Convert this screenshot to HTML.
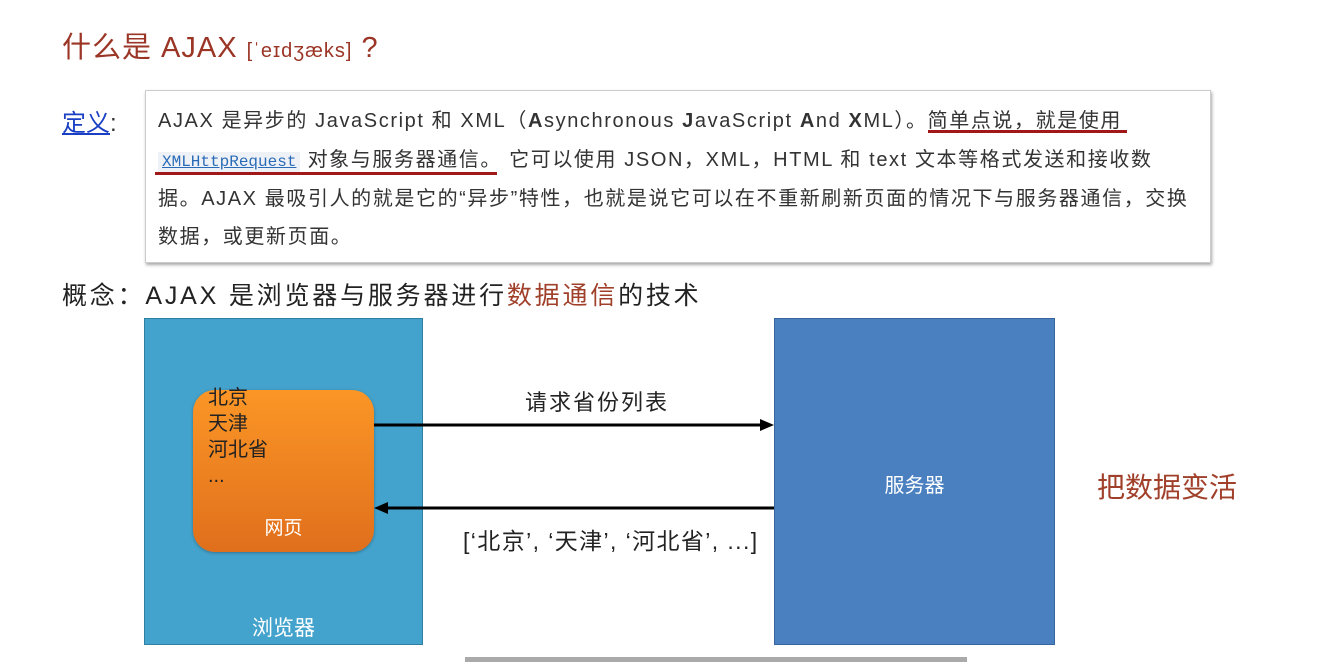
<!DOCTYPE html>
<html><head><meta charset="utf-8">
<style>
body{margin:0;width:1327px;height:662px;background:#fff;position:relative;overflow:hidden;font-family:"Liberation Sans","Noto Sans CJK SC",sans-serif;}
.a{position:absolute;white-space:nowrap;}
.box{position:absolute;left:145px;top:90px;width:1064px;height:171px;border:1px solid #ccc;box-shadow:1px 2px 3px rgba(0,0,0,.35);background:#fff;}
.ln{position:absolute;left:12px;font-size:20px;letter-spacing:1.6px;color:#333;white-space:nowrap;}
.code{font-family:"Liberation Mono",monospace;font-size:16px;letter-spacing:0;color:#2a6bb8;text-decoration:underline;background:#eef1f5;padding:1px 4px;}
</style></head><body>
<div class="a" style="left:62px;top:24px;font-size:29px;letter-spacing:1px;color:#9b3526;">什么是 AJAX <span style="font-size:20px">[ˈeɪdʒæks]</span> ?</div>
<div class="a" style="left:62px;top:103px;font-size:24px;color:#333;"><span style="color:#1a3fc4;text-decoration:underline;">定义</span>:</div>
<div class="box">
<div class="ln" style="top:13px;">AJAX 是异步的 JavaScript 和 XML（<b>A</b>synchronous <b>J</b>avaScript <b>A</b>nd <b>X</b>ML）。简单点说，就是使用</div>
<div class="ln" style="top:52px;"><span class="code">XMLHttpRequest</span> 对象与服务器通信。 它可以使用 JSON，XML，HTML 和 text 文本等格式发送和接收数</div>
<div class="ln" style="top:91px;">据。AJAX 最吸引人的就是它的“异步”特性，也就是说它可以在不重新刷新页面的情况下与服务器通信，交换</div>
<div class="ln" style="top:129px;">数据，或更新页面。</div>
</div>
<div class="a" style="left:928px;top:130px;width:199px;height:3px;background:#a01818;"></div>
<div class="a" style="left:155px;top:172px;width:342px;height:3px;background:#a01818;"></div>
<div class="a" style="left:62px;top:276px;font-size:25px;letter-spacing:2.8px;color:#222;">概念：AJAX 是浏览器与服务器进行<span style="color:#a0402a">数据通信</span>的技术</div>
<div class="a" style="left:144px;top:318px;width:277px;height:325px;background:#44a3cc;border:1px solid #2f7fa3;"></div>
<div class="a" style="left:193px;top:390px;width:181px;height:162px;border-radius:22px;background:linear-gradient(#fb9626,#e06f1c);box-shadow:0 1px 3px rgba(0,0,0,.3);"></div>
<div class="a" style="left:208px;top:385px;font-size:20px;line-height:26px;color:#222;">北京<br>天津<br>河北省<br>...</div>
<div class="a" style="left:193px;width:181px;top:513px;text-align:center;font-size:19px;color:#fff;">网页</div>
<div class="a" style="left:144px;width:279px;top:612px;text-align:center;font-size:21px;color:#fff;">浏览器</div>
<div class="a" style="left:774px;top:318px;width:279px;height:325px;background:#4a80c0;border:1px solid #37659e;"></div>
<div class="a" style="left:774px;width:281px;top:469px;text-align:center;font-size:20px;color:#fff;">服务器</div>
<svg class="a" style="left:0;top:0" width="1327" height="662">
<line x1="374" y1="425" x2="764" y2="425" stroke="#000" stroke-width="3"/>
<polygon points="774,425 760,419 760,431" fill="#000"/>
<line x1="384" y1="508" x2="774" y2="508" stroke="#000" stroke-width="3"/>
<polygon points="374,508 388,502 388,514" fill="#000"/>
</svg>
<div class="a" style="left:525px;top:385px;font-size:22px;letter-spacing:2px;color:#222;">请求省份列表</div>
<div class="a" style="left:463px;top:522px;font-size:23px;letter-spacing:1.4px;color:#222;">[‘北京’, ‘天津’, ‘河北省’, ...]</div>
<div class="a" style="left:1097px;top:466px;font-size:28px;color:#a0402a;">把数据变活</div>
<div class="a" style="left:465px;top:657px;width:502px;height:5px;background:#aaa;"></div>
</body></html>
